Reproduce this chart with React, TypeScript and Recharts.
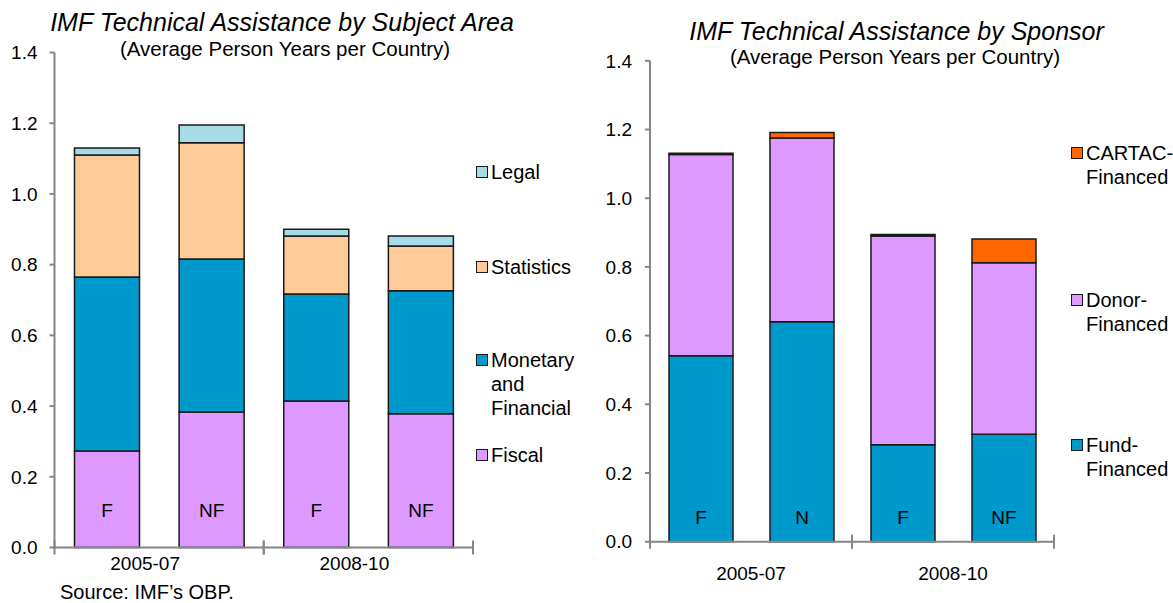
import { BarChart, Bar, XAxis, YAxis, Legend, LabelList } from "recharts";

// period groups on the x axis, and the tag printed inside each bar
const periods = ["2005-07", "2008-10"];
const subjectTags = ["F", "NF", "F", "NF"];
const sponsorTags = ["F", "N", "F", "NF"];
const yTicks = [0, 0.2, 0.4, 0.6, 0.8, 1.0, 1.2, 1.4];

// by subject area (average person years per country)
const fiscal = [0.273, 0.383, 0.414, 0.378];
const monetary = [0.492, 0.433, 0.303, 0.348];
const statistics = [0.345, 0.329, 0.164, 0.127];
const legal = [0.02, 0.05, 0.019, 0.028];

// by sponsor
const fundFinanced = [0.541, 0.64, 0.282, 0.313];
const donorFinanced = [0.586, 0.535, 0.608, 0.499];
const cartacFinanced = [0.004, 0.016, 0.004, 0.069];

// legend order, top to bottom
const subjectLegend = ["Legal", "Statistics", "Monetary and Financial", "Fiscal"];
const sponsorLegend = ["CARTAC-Financed", "Donor-Financed", "Fund-Financed"];

const FONT = '"Liberation Sans", Arial, sans-serif';
const AXIS = "#868686";
const EDGE = "#1a1a1a";
const C_LEGAL = "#a6dce8";
const C_STATS = "#ffcc99";
const C_BLUE = "#0099cc";
const C_PURPLE = "#dd99ff";
const C_ORANGE = "#ff6600";

const subjectData = subjectTags.map((tag, i) => ({
  slot: `s${i}`,
  tag,
  fiscal: fiscal[i],
  monetary: monetary[i],
  statistics: statistics[i],
  legal: legal[i],
}));

const sponsorData = sponsorTags.map((tag, i) => ({
  slot: `s${i}`,
  tag,
  fund: fundFinanced[i],
  donor: donorFinanced[i],
  cartac: cartacFinanced[i],
}));

// each period spans two bar slots: draw the boundary ticks and the period name
function GroupTick(props: any) {
  const { x, y, index, band, labelDy, labelDx } = props;
  const half = band / 2;
  const tick = (tx: number) => (
    <line x1={tx} x2={tx} y1={y - 7} y2={y + 7} stroke={AXIS} strokeWidth={2} />
  );
  if (index % 2 === 1) return <g>{tick(x + half)}</g>;
  return (
    <g>
      {tick(x - half)}
      <text x={x + half + labelDx} y={y + labelDy} dy="0.36em" textAnchor="middle" fontSize={19} fill="#000">
        {periods[index / 2]}
      </text>
    </g>
  );
}

function tagLabel(offset: number) {
  return (p: any) => (
    <text
      x={p.x + p.width / 2}
      y={p.y + p.height - offset}
      dy="0.36em"
      textAnchor="middle"
      fontSize={19}
      fill="#000"
    >
      {p.value}
    </text>
  );
}

function SideLegend(props: any) {
  const { payload, tops, textWidth, order } = props;
  const items = order
    .map((name: string) => (payload ?? []).find((it: any) => it.value === name))
    .filter(Boolean);
  return (
    <div style={{ position: "relative", fontFamily: FONT }}>
      {items.map((it: any, i: number) => (
        <div
          key={it.value}
          style={{ position: "absolute", top: tops[i], left: 0, display: "flex", alignItems: "flex-start" }}
        >
          <span
            style={{
              width: 10,
              height: 10,
              border: `1.5px solid ${EDGE}`,
              background: it.color,
              marginTop: 5.5,
              marginRight: 3,
              flex: "none",
            }}
          />
          <span style={{ width: textWidth, fontSize: 20, lineHeight: "24px", color: "#000" }}>{it.value}</span>
        </div>
      ))}
    </div>
  );
}

const yAxisProps = {
  domain: [0, 1.4] as [number, number],
  ticks: yTicks,
  tickFormatter: (v: number) => v.toFixed(1),
  stroke: AXIS,
  strokeWidth: 2,
  tickSize: 5,
  tick: { fill: "#000", fontSize: 19 },
  interval: 0 as const,
};

function Title({ center, top, text, sub, subTop, subCenter }: any) {
  return (
    <>
      <div
        style={{
          position: "absolute",
          left: center - 300,
          width: 600,
          top,
          textAlign: "center",
          fontSize: 25,
          lineHeight: "25px",
          fontStyle: "italic",
        }}
      >
        {text}
      </div>
      <div
        style={{
          position: "absolute",
          left: subCenter - 300,
          width: 600,
          top: subTop,
          textAlign: "center",
          fontSize: 20.5,
          lineHeight: "20.5px",
        }}
      >
        {sub}
      </div>
    </>
  );
}

export default function App() {
  return (
    <div
      style={{
        position: "absolute",
        left: 0,
        top: 0,
        width: 1173,
        height: 603,
        overflow: "hidden",
        background: "#fff",
        fontFamily: FONT,
        color: "#000",
      }}
    >
      <div style={{ position: "absolute", left: 0, top: 0 }}>
        <BarChart
          width={590}
          height={603}
          data={subjectData}
          margin={{ top: 52.5, right: 117, bottom: 25.5, left: 0 }}
          barSize={65}
        >
          <XAxis
            dataKey="slot"
            height={30}
            interval={0}
            tickLine={false}
            tickSize={0}
            tickMargin={0}
            stroke={AXIS}
            strokeWidth={2}
            tick={(p: any) => <GroupTick key={p.index} {...p} band={418.5 / 4} labelDy={15.5} labelDx={-14} />}
          />
          <YAxis {...yAxisProps} width={54.5} tickMargin={12} />
          <Bar dataKey="fiscal" name="Fiscal" stackId="a" fill={C_PURPLE} stroke={EDGE} strokeWidth={1.5} isAnimationActive={false}>
            <LabelList dataKey="tag" content={tagLabel(37.5)} />
          </Bar>
          <Bar dataKey="monetary" name="Monetary and Financial" stackId="a" fill={C_BLUE} stroke={EDGE} strokeWidth={1.5} isAnimationActive={false} />
          <Bar dataKey="statistics" name="Statistics" stackId="a" fill={C_STATS} stroke={EDGE} strokeWidth={1.5} isAnimationActive={false} />
          <Bar dataKey="legal" name="Legal" stackId="a" fill={C_LEGAL} stroke={EDGE} strokeWidth={1.5} isAnimationActive={false} />
          <Legend
            layout="vertical"
            align="center"
            verticalAlign="middle"
            wrapperStyle={{ left: 476, top: 160, width: 114 }}
            content={(p: any) => <SideLegend {...p} order={subjectLegend} tops={[0, 95, 188, 283]} textWidth={95} />}
          />
        </BarChart>
      </div>

      <div style={{ position: "absolute", left: 590, top: 0 }}>
        <BarChart
          width={583}
          height={603}
          data={sponsorData}
          margin={{ top: 60.8, right: 119, bottom: 31.3, left: 0 }}
          barSize={64}
        >
          <XAxis
            dataKey="slot"
            height={30}
            interval={0}
            tickLine={false}
            tickSize={0}
            tickMargin={0}
            stroke={AXIS}
            strokeWidth={2}
            tick={(p: any) => <GroupTick key={p.index} {...p} band={404 / 4} labelDy={31.3} labelDx={0} />}
          />
          <YAxis {...yAxisProps} width={60} tickMargin={13} />
          <Bar dataKey="fund" name="Fund-Financed" stackId="a" fill={C_BLUE} stroke={EDGE} strokeWidth={1.5} isAnimationActive={false}>
            <LabelList dataKey="tag" content={tagLabel(25)} />
          </Bar>
          <Bar dataKey="donor" name="Donor-Financed" stackId="a" fill={C_PURPLE} stroke={EDGE} strokeWidth={1.5} isAnimationActive={false} />
          <Bar dataKey="cartac" name="CARTAC-Financed" stackId="a" fill={C_ORANGE} stroke={EDGE} strokeWidth={1.5} isAnimationActive={false} />
          <Legend
            layout="vertical"
            align="center"
            verticalAlign="middle"
            wrapperStyle={{ left: 481, top: 141, width: 102 }}
            content={(p: any) => <SideLegend {...p} order={sponsorLegend} tops={[0, 147, 292]} textWidth={86} />}
          />
        </BarChart>
      </div>

      <Title
        center={282}
        top={10}
        text="IMF Technical Assistance by Subject Area"
        subCenter={285}
        subTop={39}
        sub="(Average Person Years per Country)"
      />
      <Title
        center={896.5}
        top={19}
        text="IMF Technical Assistance by Sponsor"
        subCenter={895}
        subTop={47}
        sub="(Average Person Years per Country)"
      />
      <div style={{ position: "absolute", left: 60, top: 582, fontSize: 20, lineHeight: "20px" }}>
        Source: IMF’s OBP.
      </div>
    </div>
  );
}
